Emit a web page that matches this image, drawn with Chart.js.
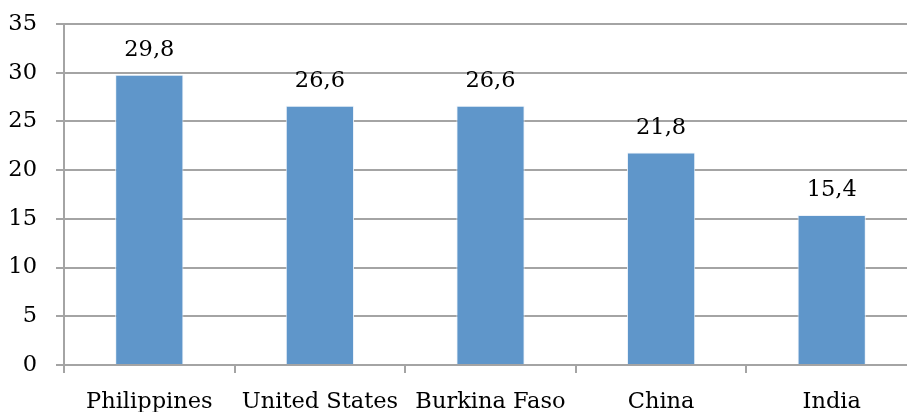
<!DOCTYPE html>
<html>
<head>
<meta charset="utf-8">
<script src="https://cdn.jsdelivr.net/npm/chart.js@4/dist/chart.umd.min.js"></script>
<style>
  html, body { margin: 0; padding: 0; background: #fff; overflow: hidden; }
  #wrap { width: 925px; height: 412px; position: relative; }
</style>
</head>
<body>
<div id="wrap"><canvas id="c"></canvas></div>
<script>
// Values per country
const categories = ['Philippines', 'United States', 'Burkina Faso', 'China', 'India'];
const values = [29.8, 26.6, 26.6, 21.8, 15.4];
const yTicks = [0, 5, 10, 15, 20, 25, 30, 35];

const FONT = '"DejaVu Serif", "Liberation Serif", serif';
const FONT_SIZE = 22.5;
const fmt = v => String(v).replace('.', ',');

// Draws the value above each bar, comma as decimal separator
const barValueLabels = {
  id: 'barValueLabels',
  afterDatasetsDraw(chart) {
    const { ctx } = chart;
    const meta = chart.getDatasetMeta(0);
    ctx.save();
    ctx.font = FONT_SIZE + 'px ' + FONT;
    ctx.fillStyle = '#000';
    ctx.textAlign = 'center';
    ctx.textBaseline = 'alphabetic';
    meta.data.forEach((bar, i) => {
      ctx.fillText(fmt(values[i]), bar.x, bar.y - 19);
    });
    ctx.restore();
  }
};

new Chart(document.getElementById('c'), {
  type: 'bar',
  data: {
    labels: categories,
    datasets: [{
      data: values,
      backgroundColor: '#5f96ca',
      borderColor: 'rgba(235,242,250,0.9)',
      borderWidth: 1,
      borderSkipped: 'bottom',
      barPercentage: 0.8,
      categoryPercentage: 0.5
    }]
  },
  options: {
    responsive: true,
    maintainAspectRatio: false,
    animation: false,
    devicePixelRatio: 1,
    layout: { padding: { top: 24, left: 0, right: 8, bottom: 0 } },
    plugins: { legend: { display: false }, tooltip: { enabled: false } },
    scales: {
      x: {
        grid: {
          offset: true,
          drawOnChartArea: false,
          drawTicks: true,
          tickLength: 8,
          color: '#a4a4a4',
          lineWidth: 2
        },
        border: { display: true, color: '#a4a4a4', width: 2 },
        ticks: {
          color: '#000',
          font: { family: FONT, size: FONT_SIZE },
          padding: 16,
          maxRotation: 0,
          autoSkip: false
        },
        afterFit(scale) {
          scale.height = 47;
          scale.paddingLeft = 0;
          scale.paddingRight = 0;
        }
      },
      y: {
        min: 0,
        max: 35,
        afterBuildTicks(scale) { scale.ticks = yTicks.map(v => ({ value: v })); },
        grid: {
          color: '#a4a4a4',
          lineWidth: 2,
          tickLength: 8,
          drawTicks: true
        },
        border: { display: true, color: '#a4a4a4', width: 2 },
        ticks: {
          color: '#000',
          font: { family: FONT, size: FONT_SIZE },
          padding: 19
        },
        afterFit(scale) {
          scale.width = 64;
          scale.paddingTop = 0;
          scale.paddingBottom = 0;
        }
      }
    }
  },
  plugins: [barValueLabels]
});
</script>
</body>
</html>
